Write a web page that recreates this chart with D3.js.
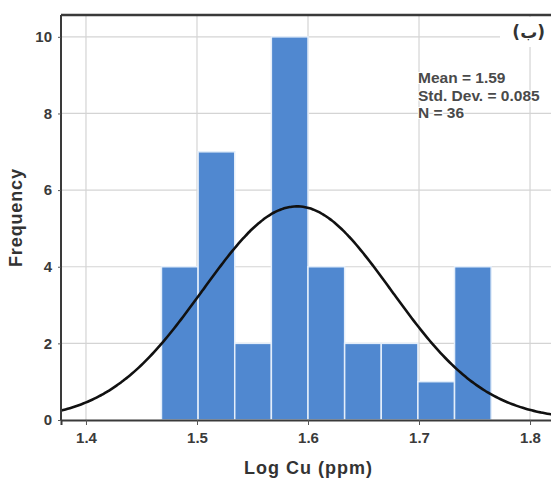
<!DOCTYPE html>
<html>
<head>
<meta charset="utf-8">
<script src="https://cdn.jsdelivr.net/npm/d3@7"></script>
<style>
  body { margin: 0; background: #fff; }
  svg { display: block; font-family: "Liberation Sans", Arial, sans-serif; }
</style>
</head>
<body>
<div id="chart"></div>
<script>
// bin edges and counts
const binEdges = [1.468, 1.501, 1.534, 1.567, 1.600, 1.633, 1.666, 1.699, 1.732, 1.765];
const counts = [4, 7, 2, 10, 4, 2, 2, 1, 4];
const xTicks = [1.4, 1.5, 1.6, 1.7, 1.8];
const yTicks = [0, 2, 4, 6, 8, 10];
const statLines = ['Mean = 1.59', 'Std. Dev. = 0.085', 'N = 36'];
const mean = 1.59, stdDev = 0.085, n = 36;

const width = 551, height = 481;
const plotLeft = 61, plotTop = 15, plotRight = 556, plotBottom = 420;

const svg = d3.select('#chart').append('svg')
    .attr('width', width)
    .attr('height', height);

const x = d3.scaleLinear().domain([1.3775, 1.8234]).range([plotLeft, plotRight]);
const y = d3.scaleLinear().domain([0, 10.57]).range([plotBottom, plotTop]);

// grid
svg.append('g').selectAll('line')
    .data(xTicks)
    .enter().append('line')
    .attr('x1', d => x(d)).attr('x2', d => x(d))
    .attr('y1', plotTop).attr('y2', plotBottom)
    .attr('stroke', '#d4d4d4').attr('stroke-width', 1.2);

svg.append('g').selectAll('line')
    .data(yTicks.filter(d => d > 0))
    .enter().append('line')
    .attr('x1', plotLeft).attr('x2', plotRight)
    .attr('y1', d => y(d)).attr('y2', d => y(d))
    .attr('stroke', '#d4d4d4').attr('stroke-width', 1.2);

// bars
const bins = counts.map((c, i) => ({ x0: binEdges[i], x1: binEdges[i + 1], count: c }));
svg.append('g').selectAll('rect')
    .data(bins)
    .enter().append('rect')
    .attr('x', d => x(d.x0))
    .attr('y', d => y(d.count))
    .attr('width', d => x(d.x1) - x(d.x0))
    .attr('height', d => y(0) - y(d.count))
    .attr('fill', '#5088d0')
    .attr('stroke', '#e4eefa')
    .attr('stroke-width', 1.5);

// normal curve from the stated mean / std. dev.
const binWidth = binEdges[1] - binEdges[0];
const xs = d3.range(x.domain()[0], x.domain()[1] + 0.002, 0.002);
const curve = xs.map(v => [v, n * binWidth / (stdDev * Math.sqrt(2 * Math.PI)) *
    Math.exp(-0.5 * Math.pow((v - mean) / stdDev, 2))]);
svg.append('path')
    .datum(curve)
    .attr('fill', 'none')
    .attr('stroke', '#111')
    .attr('stroke-width', 2.6)
    .attr('d', d3.line().x(d => x(d[0])).y(d => y(d[1])).curve(d3.curveBasis));

// frame
svg.append('line').attr('x1', plotLeft).attr('x2', plotRight).attr('y1', plotTop).attr('y2', plotTop)
    .attr('stroke', '#3a3a3a').attr('stroke-width', 2.5);
svg.append('line').attr('x1', plotLeft).attr('x2', plotLeft).attr('y1', plotTop).attr('y2', plotBottom)
    .attr('stroke', '#3a3a3a').attr('stroke-width', 2);

// axes
const xAxis = svg.append('g')
    .attr('transform', `translate(0,${plotBottom})`)
    .call(d3.axisBottom(x).tickValues(xTicks).tickSize(5).tickPadding(7).tickFormat(d3.format('.1f')));
xAxis.select('.domain').attr('stroke', '#3a3a3a').attr('stroke-width', 2);
xAxis.selectAll('.tick line').attr('stroke', '#555');
xAxis.selectAll('text').attr('font-size', 15).attr('font-weight', 'bold').attr('fill', '#3a3a3a');

const yAxis = svg.append('g')
    .attr('transform', `translate(${plotLeft},0)`)
    .call(d3.axisLeft(y).tickValues(yTicks).tickSize(3).tickPadding(6));
yAxis.select('.domain').remove();
yAxis.selectAll('.tick line').attr('stroke', '#555');
yAxis.selectAll('text').attr('font-size', 15).attr('font-weight', 'bold').attr('fill', '#3a3a3a');

// axis titles
svg.append('text')
    .attr('x', 308).attr('y', 474)
    .attr('text-anchor', 'middle')
    .attr('font-size', 18).attr('font-weight', 'bold').attr('fill', '#333')
    .attr('textLength', 128)
    .text('Log Cu (ppm)');

svg.append('text')
    .attr('transform', 'translate(22,218) rotate(-90)')
    .attr('text-anchor', 'middle')
    .attr('font-size', 18).attr('font-weight', 'bold').attr('fill', '#333')
    .attr('textLength', 98)
    .text('Frequency');

// panel label
svg.append('rect').attr('x', 500).attr('y', 17).attr('width', 60).attr('height', 30).attr('fill', '#fff');
svg.append('text')
    .attr('x', 545).attr('y', 38)
    .attr('text-anchor', 'end')
    .attr('font-family', 'DejaVu Sans, sans-serif')
    .attr('font-size', 17).attr('font-weight', 'bold').attr('fill', '#333')
    .text('(ب)');

// statistics
svg.append('g').selectAll('text')
    .data(statLines)
    .enter().append('text')
    .attr('x', 418)
    .attr('y', (d, i) => 83 + i * 17.5)
    .attr('font-size', 15.5).attr('font-weight', 'bold').attr('fill', '#4a4a4a')
    .attr('stroke', '#fff').attr('stroke-width', 2).attr('paint-order', 'stroke')
    .text(d => d);
</script>
</body>
</html>
